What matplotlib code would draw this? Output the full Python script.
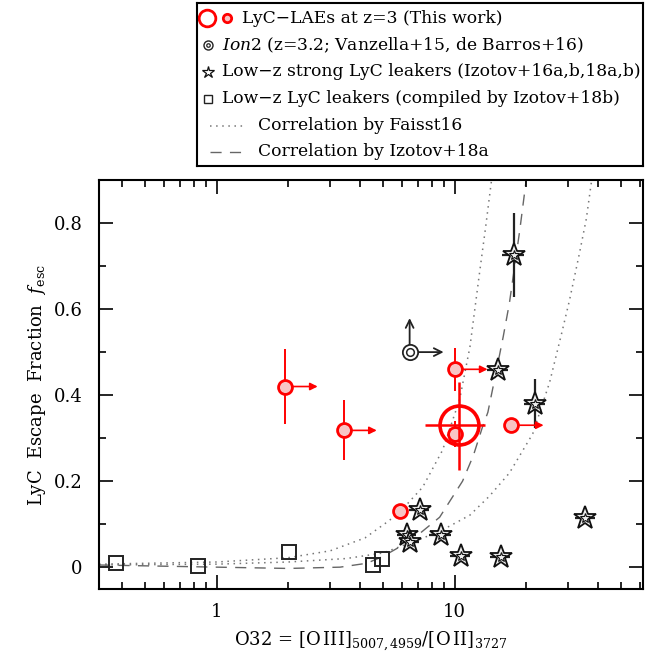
import numpy as np
import matplotlib
matplotlib.use("Agg")
import matplotlib.pyplot as plt

plt.rcParams['font.family'] = ['DejaVu Serif']
plt.rcParams['mathtext.fontset'] = 'dejavuserif'

# --- LyC-LAEs at z=3 (this work), lower limits in O32 ---
lae_o32 = [1.93, 3.42, 5.87, 10.0, 10.0, 17.2]
lae_fesc = [0.42, 0.318, 0.13, 0.46, 0.31, 0.33]
lae_err_lo = [0.087, 0.068, 0.012, 0.05, 0.03, 0.015]
lae_err_hi = [0.087, 0.07, 0.012, 0.05, 0.03, 0.015]
lae_limit = [True, True, False, True, False, True]

# stacked LAE
stack_o32 = [10.4]
stack_fesc = [0.33]
stack_xlo = [7.48]
stack_xhi = [13.4]
stack_ylo = [0.226]
stack_yhi = [0.43]

# Ion2
ion2_o32 = [6.47]
ion2_fesc = [0.50]

# low-z strong LyC leakers (Izotov+16a,b,18a,b)
star_o32 = [17.7, 15.2, 21.7, 7.13, 6.3, 6.5, 8.73, 10.6, 15.6, 35.5]
star_fesc = [0.726, 0.458, 0.38, 0.133, 0.075, 0.058, 0.074, 0.026, 0.023, 0.114]
star_err_lo = [0.098, 0.0, 0.057, 0, 0, 0, 0, 0, 0, 0]
star_err_hi = [0.097, 0.0, 0.057, 0, 0, 0, 0, 0, 0, 0]
star_xerr = [1.8, 1.5, 2.2, 0.7, 0.6, 0.6, 0.9, 1.0, 1.5, 3.5]

# low-z LyC leakers (compiled by Izotov+18b)
sq_o32 = [0.377, 0.83, 2.01, 4.52, 4.93]
sq_fesc = [0.009, 0.002, 0.035, 0.005, 0.02]

# correlations
faisst_a_x = [0.32, 1.0, 2.0, 3.0, 4.2, 5.33, 6.3, 7.34, 8.9, 10.5, 11.6, 12.7, 13.5, 14.3]
faisst_a_y = [0.007, 0.012, 0.022, 0.038, 0.068, 0.109, 0.146, 0.186, 0.272, 0.39, 0.512, 0.68, 0.79, 0.90]
faisst_b_x = [0.32, 1.0, 2.0, 3.5, 5.0, 7.34, 9.5, 11.6, 14.0, 17.0, 21.3, 25.1, 28.2, 30.4, 33.5, 35.8, 37.7]
faisst_b_y = [0.005, 0.007, 0.012, 0.02, 0.033, 0.067, 0.095, 0.121, 0.165, 0.219, 0.31, 0.43, 0.544, 0.62, 0.73, 0.81, 0.90]
izotov_x = [0.32, 1.0, 2.0, 3.3, 4.27, 5.0, 5.87, 7.2, 8.65, 10.8, 12.0, 13.1, 13.8, 15.0, 16.0, 17.0, 18.8, 20.0]
izotov_y = [0.005, 0.0, -0.003, 0.0, 0.009, 0.025, 0.047, 0.08, 0.116, 0.2, 0.26, 0.326, 0.36, 0.458, 0.535, 0.614, 0.784, 0.90]

fig = plt.figure(figsize=(6.65, 6.56), dpi=100)
ax = fig.add_axes([0.149, 0.102, 0.818, 0.6235])

ax.plot(faisst_a_x, faisst_a_y, color='#777777', ls=(0, (1, 3)), lw=1.1, zorder=1)
ax.plot(faisst_b_x, faisst_b_y, color='#777777', ls=(0, (1, 3)), lw=1.1, zorder=1)
ax.plot(izotov_x, izotov_y, color='#666666', ls=(0, (8, 6)), lw=1.0, zorder=1)

pink = '#f8c4c4'

# squares
ax.plot(sq_o32, sq_fesc, ls='none', marker='s', ms=10, mfc='none', mec='#222222', mew=1.4, zorder=3)

# stars
ax.errorbar(star_o32, star_fesc, yerr=[star_err_lo, star_err_hi], xerr=star_xerr,
            fmt='none', ecolor='#222222', elinewidth=1.6, zorder=3)
ax.plot(star_o32, star_fesc, ls='none', marker='*', ms=17, mfc='#eeeeee', mec='#111111', mew=1.3, zorder=4)
ax.plot(star_o32, star_fesc, ls='none', marker='*', ms=7, mfc='none', mec='#111111', mew=0.8, zorder=5)

# Ion2
ax.plot(ion2_o32, ion2_fesc, ls='none', marker='o', ms=11, mfc='white', mec='#222222', mew=1.3, zorder=4)
ax.plot(ion2_o32, ion2_fesc, ls='none', marker='o', ms=5.5, mfc='none', mec='#222222', mew=1.1, zorder=5)
for x, y in zip(ion2_o32, ion2_fesc):
    ax.annotate('', xy=(x * 10 ** (34 / 238), y), xytext=(x, y),
                arrowprops=dict(arrowstyle='->', color='#222222', lw=1.3, mutation_scale=14, shrinkA=5, shrinkB=0))
    ax.annotate('', xy=(x, y + 34 / 430), xytext=(x, y),
                arrowprops=dict(arrowstyle='->', color='#222222', lw=1.3, mutation_scale=14, shrinkA=5, shrinkB=0))

# LAEs
ax.errorbar(lae_o32, lae_fesc, yerr=[lae_err_lo, lae_err_hi], fmt='none', ecolor='red', elinewidth=1.4, zorder=5)
ax.plot(lae_o32, lae_fesc, ls='none', marker='o', ms=10, mfc=pink, mec='red', mew=2, zorder=6)
for x, y, lim in zip(lae_o32, lae_fesc, lae_limit):
    if lim:
        ax.annotate('', xy=(x * 10 ** (33 / 238), y), xytext=(x, y),
                    arrowprops=dict(arrowstyle='-|>', color='red', lw=1.2, mutation_scale=11, shrinkA=5, shrinkB=0),
                    zorder=5)

# stack
sx = np.array(stack_o32)
ax.errorbar(stack_o32, stack_fesc,
            xerr=[sx - np.array(stack_xlo), np.array(stack_xhi) - sx],
            yerr=[np.array(stack_fesc) - np.array(stack_ylo), np.array(stack_yhi) - np.array(stack_fesc)],
            fmt='none', ecolor='red', elinewidth=1.8, zorder=6)
ax.plot(stack_o32, stack_fesc, ls='none', marker='o', ms=28, mfc='none', mec='red', mew=2.6, zorder=7)

ax.set_xscale('log')
ax.set_xlim(0.32, 62)
ax.set_ylim(-0.051, 0.9)
ax.set_xticks([1, 10])
ax.set_xticklabels(['1', '10'])
ax.set_yticks([0, 0.2, 0.4, 0.6, 0.8])
ax.set_yticklabels(['0', '0.2', '0.4', '0.6', '0.8'])
ax.set_yticks(np.arange(0.1, 0.9, 0.2), minor=True)
ax.tick_params(which='both', direction='in', top=True, right=True, width=1.2, labelsize=13)
ax.tick_params(which='major', length=10)
ax.tick_params(which='minor', length=5)
ax.tick_params(axis='y', pad=12)
ax.tick_params(axis='x', pad=10)
ax.xaxis.set_minor_formatter(matplotlib.ticker.NullFormatter())
for s in ax.spines.values():
    s.set_linewidth(1.5)

ax.set_xlabel(r'O32 = [O$\,$III]$_{5007,4959}$/[O$\,$II]$_{3727}$', fontsize=13, labelpad=6)
ax.set_ylabel(r'LyC  Escape  Fraction  $f_{\mathrm{esc}}$', fontsize=13, labelpad=4)

# legend box
lg = fig.add_axes([0.296, 0.747, 0.671, 0.2484])
lg.set_xlim(197, 643)
lg.set_ylim(166, 3)
lg.set_xticks([])
lg.set_yticks([])
for s in lg.spines.values():
    s.set_linewidth(1.5)
rows = [18, 45, 72, 99, 126, 152]
fs = 12.3
lg.plot([207], [rows[0]], marker='o', ms=12, mfc='none', mec='red', mew=2)
lg.plot([227], [rows[0]], marker='o', ms=6, mfc=pink, mec='red', mew=2)
lg.text(242, rows[0], 'LyC−LAEs at z=3 (This work)', va='center', fontsize=fs)
lg.plot([208], [rows[1]], marker='o', ms=6.5, mfc='white', mec='#222222', mew=1)
lg.plot([208], [rows[1]], marker='o', ms=2.5, mfc='none', mec='#222222', mew=0.9)
lg.text(222, rows[1], r'$\it{Ion2}$ (z=3.2; Vanzella+15, de Barros+16)', va='center', fontsize=fs)
lg.plot([208], [rows[2]], marker='*', ms=9, mfc='white', mec='#111111', mew=0.9)
lg.text(222, rows[2], 'Low−z strong LyC leakers (Izotov+16a,b,18a,b)', va='center', fontsize=fs)
lg.plot([208], [rows[3]], marker='s', ms=6, mfc='none', mec='#222222', mew=1)
lg.text(222, rows[3], 'Low−z LyC leakers (compiled by Izotov+18b)', va='center', fontsize=fs)
lg.plot([210, 245], [rows[4], rows[4]], color='#777777', ls=(0, (1, 3)), lw=1.1)
lg.text(258, rows[4], 'Correlation by Faisst16', va='center', fontsize=fs)
lg.plot([210, 245], [rows[5], rows[5]], color='#666666', ls=(0, (8, 6)), lw=1.0)
lg.text(258, rows[5], 'Correlation by Izotov+18a', va='center', fontsize=fs)

fig.savefig('out.png', dpi=100)
